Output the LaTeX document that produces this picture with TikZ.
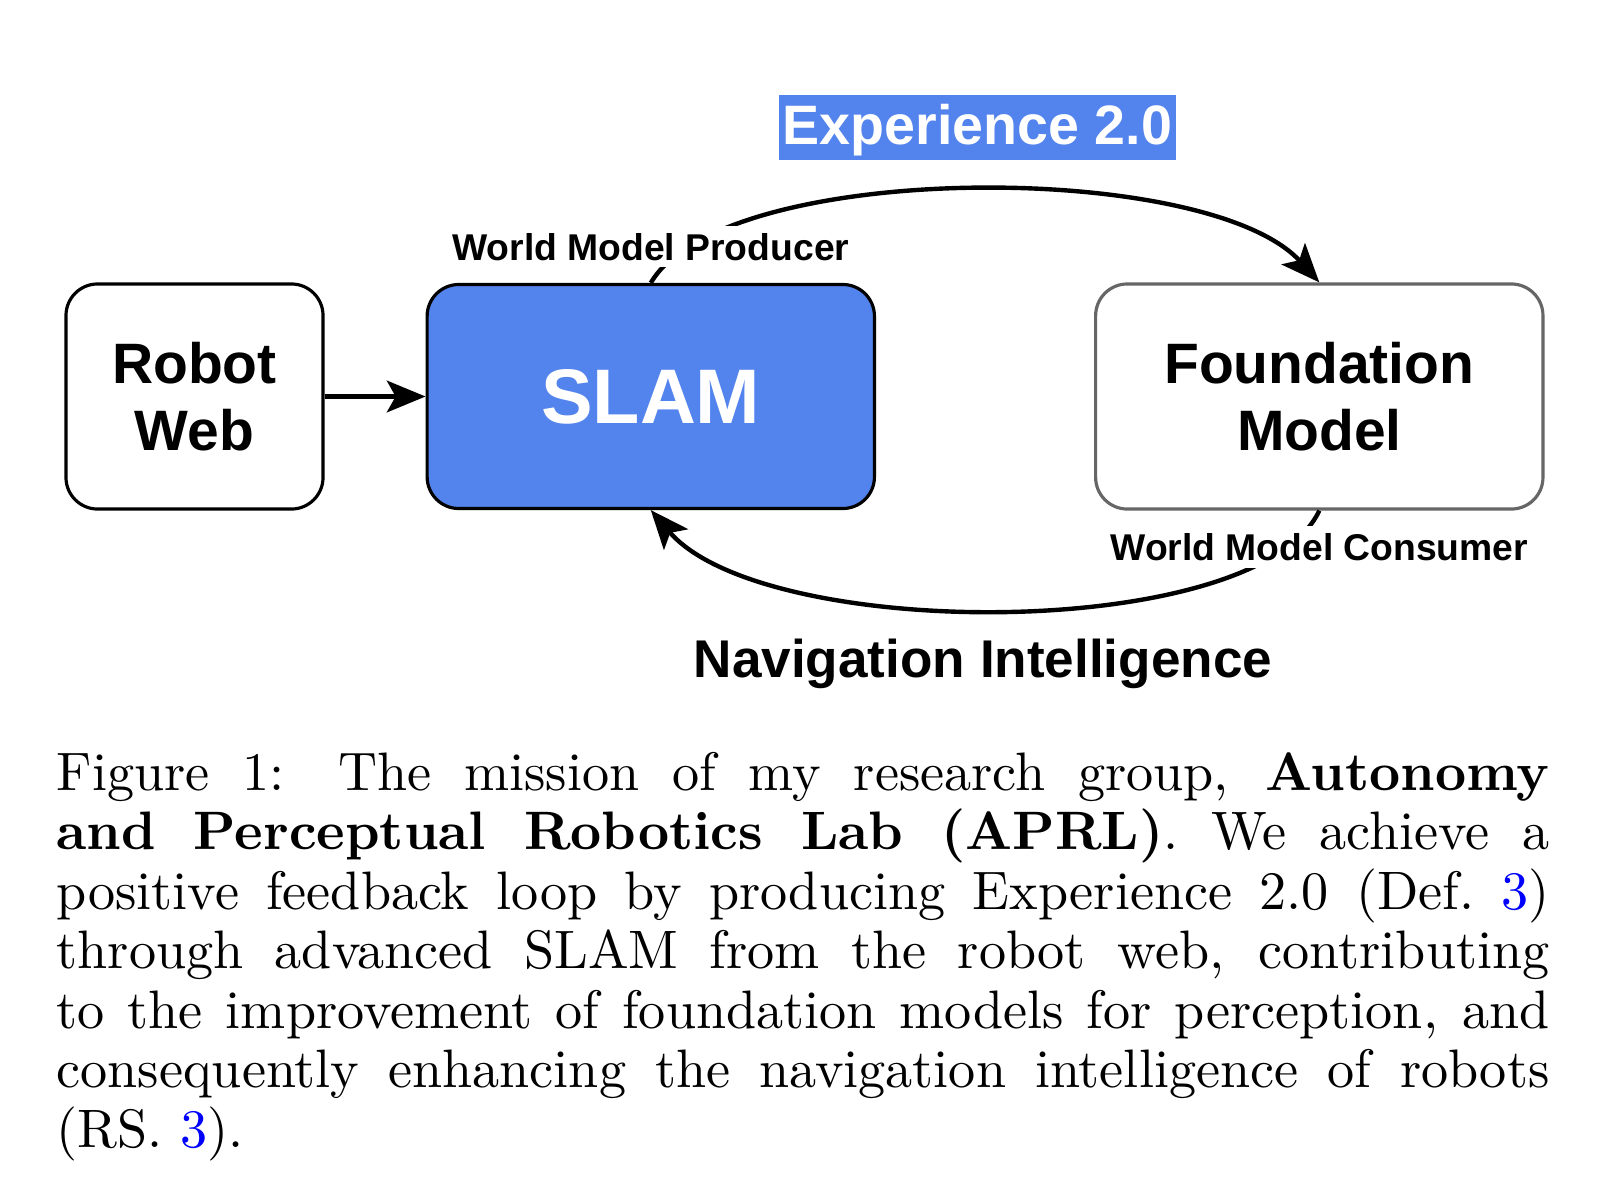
\documentclass[tikz,border=0pt]{standalone}
\usepackage{fontspec}
\usepackage{xcolor}
\usetikzlibrary{arrows.meta,positioning}
\newfontfamily\diagfont{Liberation Sans}
\newfontfamily\capfont{lmroman10}[Extension=.otf, UprightFont=*-regular, BoldFont=*-bold]
\definecolor{slamblue}{HTML}{5383EC}
\definecolor{boxgray}{HTML}{666666}
\tikzset{
  block/.style={draw=black, line width=0.9pt, rounded corners=9pt, fill=white, align=center,
    inner sep=0pt, font=\diagfont\bfseries\fontsize{16.2}{19.1}\selectfont},
  flow/.style={line width=1.25pt, -{Stealth[length=11pt,width=9pt,inset=2.5pt]}},
  edgelabel/.style={fill=white, inner sep=2pt, font=\diagfont\bfseries\fontsize{10.6}{12.7}\selectfont},
}

\begin{document}
\begin{tikzpicture}[x=0.01cm,y=-0.01cm]
    \useasboundingbox (0,0) rectangle (1622,1182);
    % boxes
    \node[block, minimum width=73.1pt, minimum height=64pt] (robot) at (194.5,396.5) {Robot\\Web};
    \node[block, fill=slamblue, text=white, minimum width=127.2pt, minimum height=63.7pt,
      font=\diagfont\bfseries\fontsize{22}{26}\selectfont, right=28.7pt of robot] (slam) {SLAM};
    \node[block, draw=boxgray, minimum width=127.2pt, minimum height=64pt, right=62pt of slam] (fm) {Foundation\\Model};
    % connectors
    \draw[flow] (robot) -- (slam);
    \draw[flow] (slam.north) .. controls +(72,-123) and +(-112,-123) .. (fm.north);
    \draw[flow] (fm.south) .. controls +(-62,132) and +(113,132) .. (slam.south);
    \node[edgelabel, above=4.2pt of slam.north] (producer) {World Model Producer};
    \node[edgelabel, below=4.2pt of fm.south] (consumer) {World Model Consumer};
    \node[fill=slamblue, text=white, inner xsep=1pt, inner ysep=0pt, minimum height=18.5pt, text depth=2pt,
      font=\diagfont\bfseries\fontsize{15.8}{19}\selectfont] (exp) at (977.5,127.5) {Experience 2.0};
    \node[font=\diagfont\bfseries\fontsize{15.1}{18}\selectfont] (nav) at (983,664) {Navigation Intelligence};
    % caption
    \node[anchor=base west, text width=424.5pt, inner sep=0pt, align=justify,
      font=\capfont\fontsize{15.4}{16.93}\selectfont] (caption) at (56,790) {%
      Figure 1: The mission of my research group, \textbf{Autonomy}\linebreak
      \textbf{and Perceptual Robotics Lab (APRL)}. We achieve a\linebreak
      positive feedback loop by producing Experience 2.0 (Def.~\textcolor{blue}{3})\linebreak
      through advanced SLAM from the robot web, contributing\linebreak
      to the improvement of foundation models for perception, and\linebreak
      consequently enhancing the navigation intelligence of robots\linebreak
      (RS.~\textcolor{blue}{3}).};
\end{tikzpicture}
\end{document}
